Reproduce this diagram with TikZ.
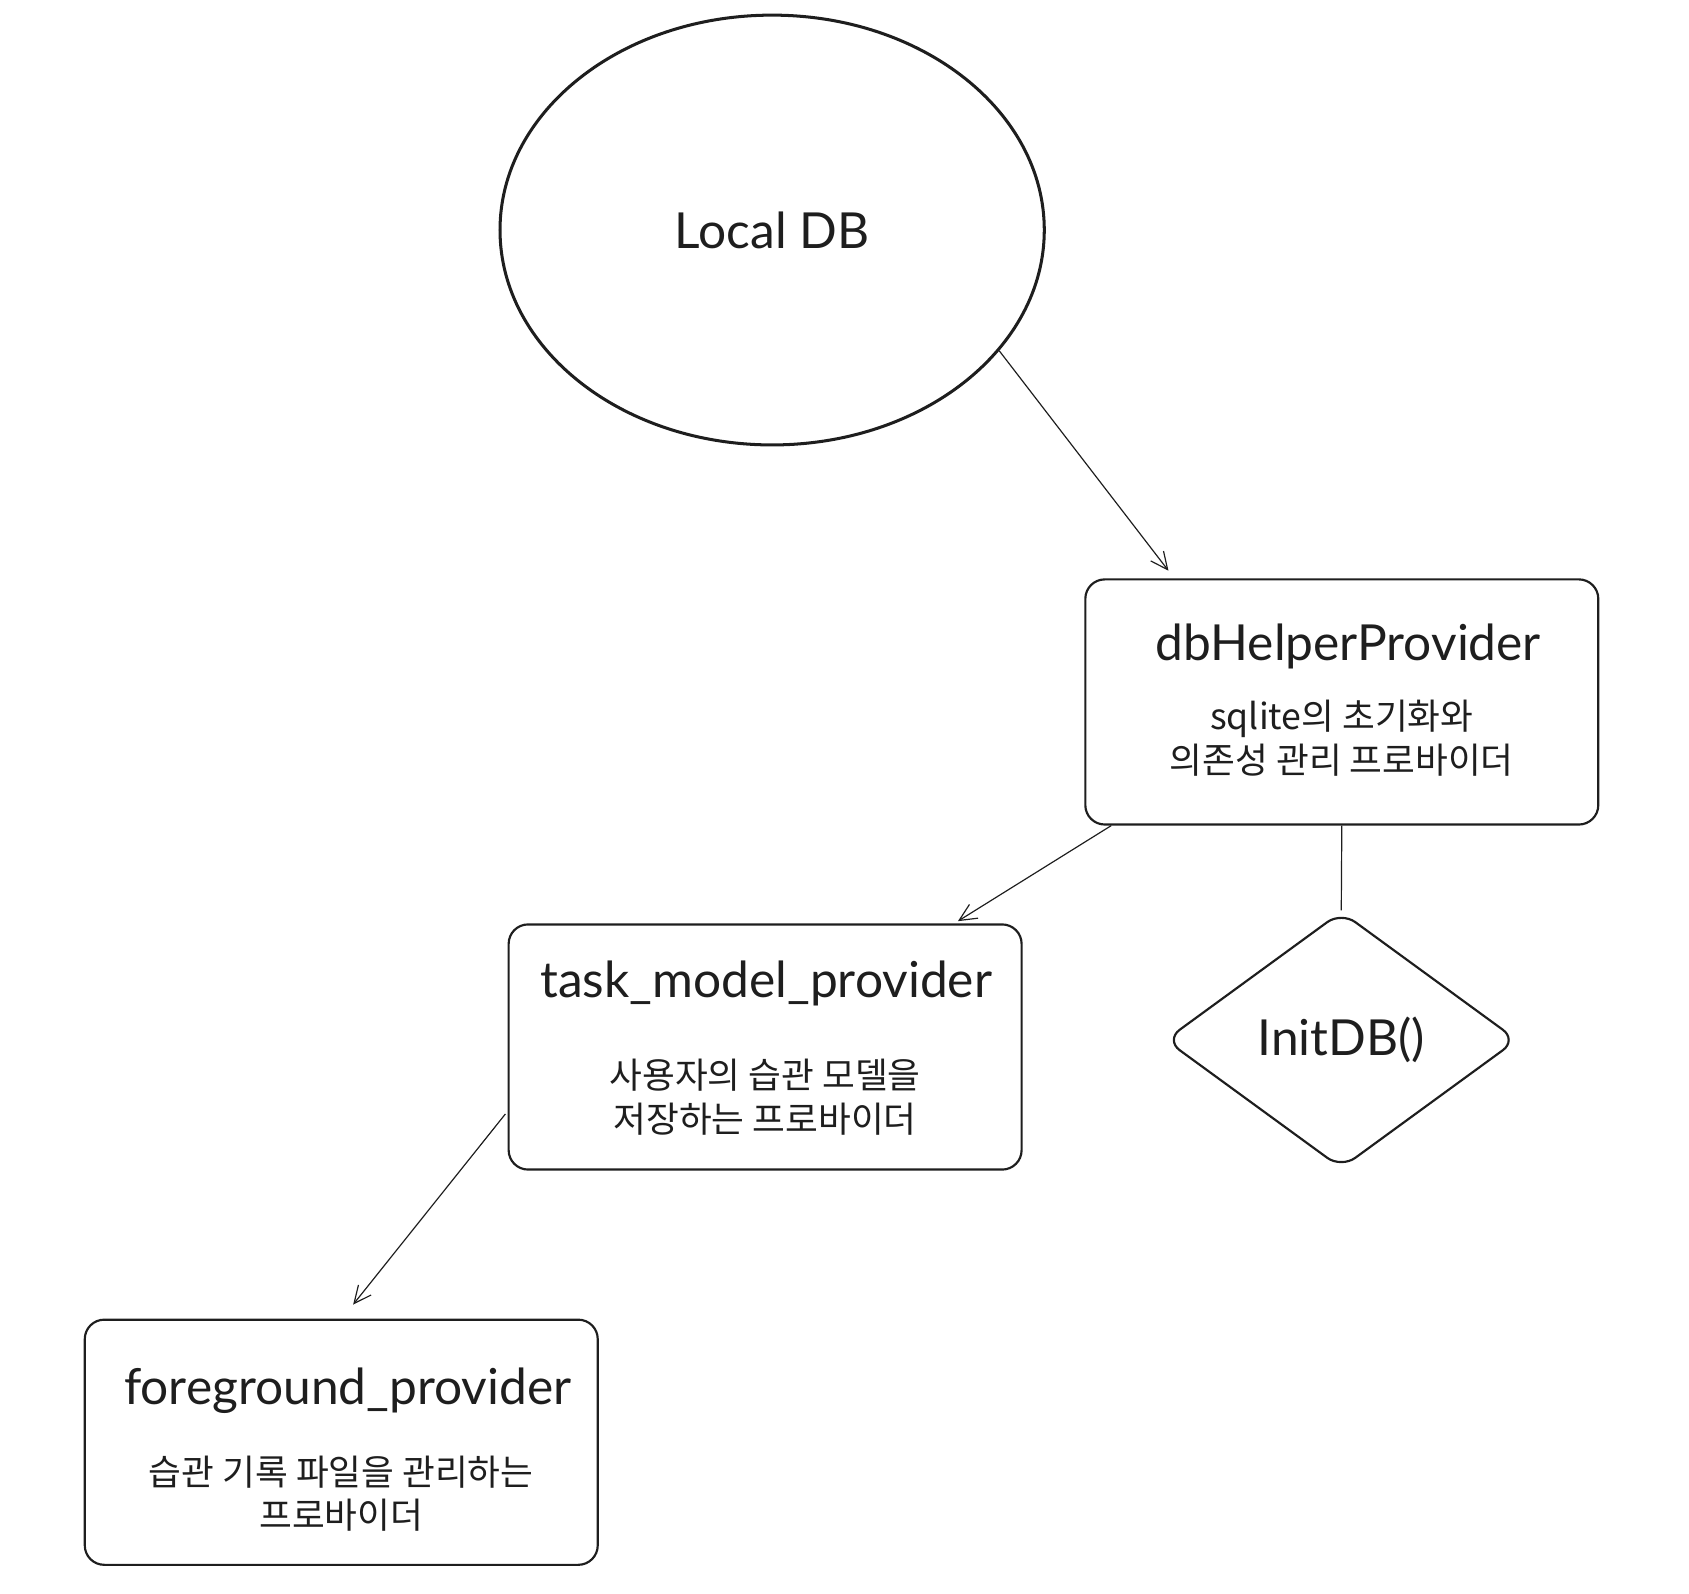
\documentclass[tikz,border=0pt]{standalone}
\usepackage{fontspec}
\setmainfont{Lato}
\newfontfamily\krfont{Noto Sans CJK KR}
\usetikzlibrary{arrows.meta,calc,positioning,shapes}
\definecolor{ink}{HTML}{1E1E1E}
\tikzstyle{box}=[
  draw=ink,
  line width=2pt,
  rounded corners=18pt,
  minimum width=475pt,
  minimum height=227pt,
]
\tikzstyle{title}=[
  text=ink,
  font={\fontsize{46}{54}\selectfont},
]
\tikzstyle{note}=[
  text=ink,
  align=center,
  font={\krfont\fontsize{33}{40}\selectfont},
]
\tikzstyle{arrow}=[
  draw=ink,
  line width=1.1pt,
  -{Straight Barb[length=16pt,width=15pt,line width=1.1pt]},
]
\tikzset{
  x=1pt,
  y=-1pt,
}

\begin{document}
\begin{tikzpicture}
      \useasboundingbox (0,0) rectangle (1564,1476);
      \node [ellipse, draw=ink, line width=2.8pt, minimum width=504pt,
      minimum height=398pt, title] (db) at (715,213) {Local DB};
      \node [box] (helper) at (1242.5,650) {};
      \node [title] (helperT) at ($(helper.north)+(6,63)$) {dbHelperProvider};
      \node [note] (helperN) at ($(helper.north)+(0,148)$)
      {sqlite의 초기화와\\의존성 관리 프로바이더};
      \node [diamond, draw=ink, line width=2pt, rounded corners=16pt,
      inner sep=0pt, shape aspect=1.37, minimum width=326pt,
      minimum height=238pt, title] (init) at (1242,963) {InitDB()};
      \node [box] (task) at (708.5,969.5) {};
      \node [title] (taskT) at ($(task.north)+(1,56)$) {task\_model\_provider};
      \node [note] (taskN) at ($(task.north)+(0,161)$)
      {사용자의 습관 모델을\\저장하는 프로바이더};
      \node [box] (fg) at (316,1335.5) {};
      \node [title] (fgT) at ($(fg.north)+(6,67)$) {foreground\_provider};
      \node [note] (fgN) at ($(fg.north)+(0,162)$)
      {습관 기록 파일을 관리하는\\프로바이더};
      \coordinate (a1) at ($(helper.north west)+(78,-7)$);
      \coordinate (a2s) at ($(helper.south west)+(25,0)$);
      \coordinate (a2e) at ($(task.north east)+(-60,-2)$);
      \coordinate (a3s) at ($(task.west)+(-2,62)$);
      \coordinate (a3e) at ($(fg.north)+(11,-13)$);
      \draw [arrow] (db.-28) -- (a1);
      \draw [arrow] (a2s) -- (a2e);
      \draw [draw=ink, line width=1.1pt] (helper.south) -- (init.north);
      \draw [arrow] (a3s) -- (a3e);
    \end{tikzpicture}
\end{document}
